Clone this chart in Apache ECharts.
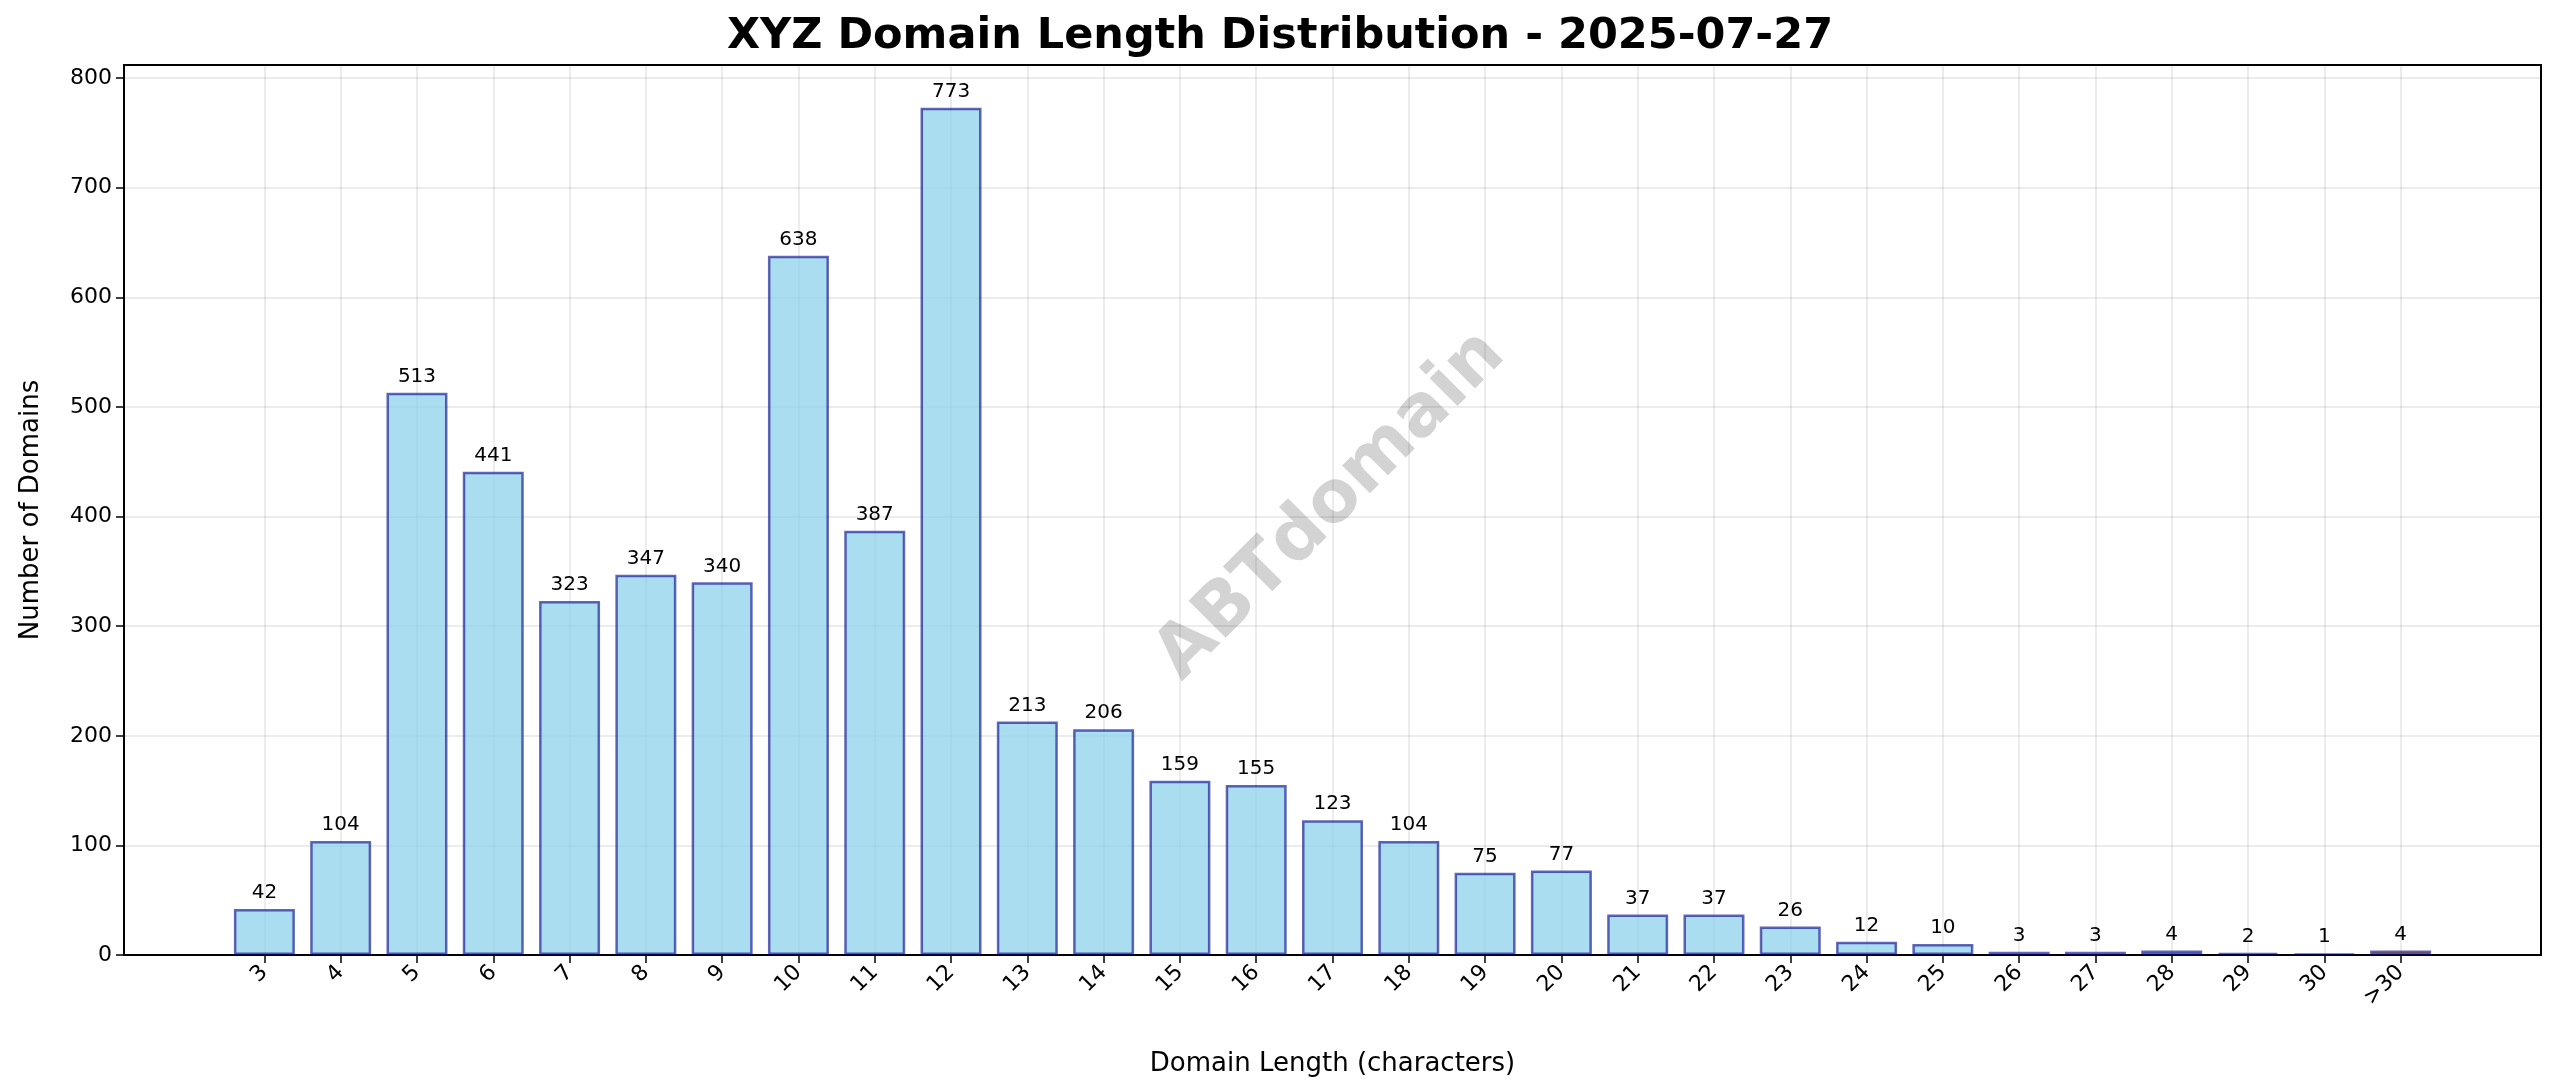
<!DOCTYPE html>
<html>
<head>
<meta charset="utf-8">
<script src="https://cdn.jsdelivr.net/npm/echarts@6/dist/echarts.min.js"></script>
<style>html,body{margin:0;background:#fff}#chart{width:2560px;height:1087px}</style>
</head>
<body>
<div id="chart"></div>
<script>
var lengths = ['3','4','5','6','7','8','9','10','11','12','13','14','15','16','17','18','19','20','21','22','23','24','25','26','27','28','29','30','>30'];
var counts = [42,104,513,441,323,347,340,638,387,773,213,206,159,155,123,104,75,77,37,37,26,12,10,3,3,4,2,1,4];

var idx = lengths.map(function (c, i) { return i; });
var data = counts.map(function (v, i) {
    var last = i == counts.length - 1;
    return {
        value: [i, v],
        itemStyle: last ? {color: 'rgba(255,165,0,0.7)', borderColor: 'rgba(0,0,139,0.6)'} : {}
    };
});

var myChart = echarts.init(document.getElementById('chart'));
var option = {
    animation: false,
    title: {
        text: 'XYZ Domain Length Distribution - 2025-07-27',
        left: 'center', top: 10,
        textStyle: {fontFamily: 'DejaVu Sans', fontSize: 43, fontWeight: 'bold', color: '#000'}
    },
    graphic: [{
        type: 'text', x: 1331, y: 506, rotation: Math.PI / 4,
        style: {text: 'ABTdomain', font: 'bold 72px "DejaVu Sans"', fill: 'rgba(128,128,128,0.35)', align: 'center', verticalAlign: 'middle'}
    }],
    grid: {left: 124, right: 19, top: 65, bottom: 132, show: true, borderColor: '#000', borderWidth: 2},
    xAxis: {
        type: 'value', min: -1.84, max: 29.84,
        name: 'Domain Length (characters)', nameLocation: 'middle', nameGap: 96,
        nameTextStyle: {fontFamily: 'DejaVu Sans', fontSize: 26, color: '#000'},
        axisLine: {show: true, onZero: false, lineStyle: {color: '#000', width: 2}},
        axisTick: {show: true, length: 8, customValues: idx, lineStyle: {color: '#000', width: 1.5}},
        axisLabel: {customValues: idx, rotate: 45, fontFamily: 'DejaVu Sans', fontSize: 22, color: '#000', margin: 14,
            formatter: function (v) { return lengths[Math.round(v)]; }},
        splitLine: {show: true, lineStyle: {color: 'rgba(0,0,0,0.1)', width: 1.5}}
    },
    yAxis: {
        type: 'value', min: 0, max: 812, interval: 100,
        name: 'Number of Domains', nameLocation: 'middle', nameGap: 80,
        nameTextStyle: {fontFamily: 'DejaVu Sans', fontSize: 26, color: '#000'},
        axisLine: {show: true, onZero: false, lineStyle: {color: '#000', width: 2}},
        axisTick: {show: true, length: 8, lineStyle: {color: '#000', width: 1.5}},
        axisLabel: {fontFamily: 'DejaVu Sans', fontSize: 22, color: '#000', margin: 12, showMaxLabel: false},
        splitLine: {show: true, lineStyle: {color: 'rgba(0,0,0,0.1)', width: 1.5}}
    },
    series: [{
        type: 'bar', data: data, barWidth: 61,
        itemStyle: {color: 'rgba(135,206,235,0.7)', borderColor: 'rgba(0,0,139,0.6)', borderWidth: 2.5},
        label: {show: true, position: 'top', distance: 6, fontFamily: 'DejaVu Sans', fontSize: 20, color: '#000',
            formatter: function (p) { return p.value[1]; }}
    }]
};
myChart.setOption(option);
</script>
</body>
</html>
